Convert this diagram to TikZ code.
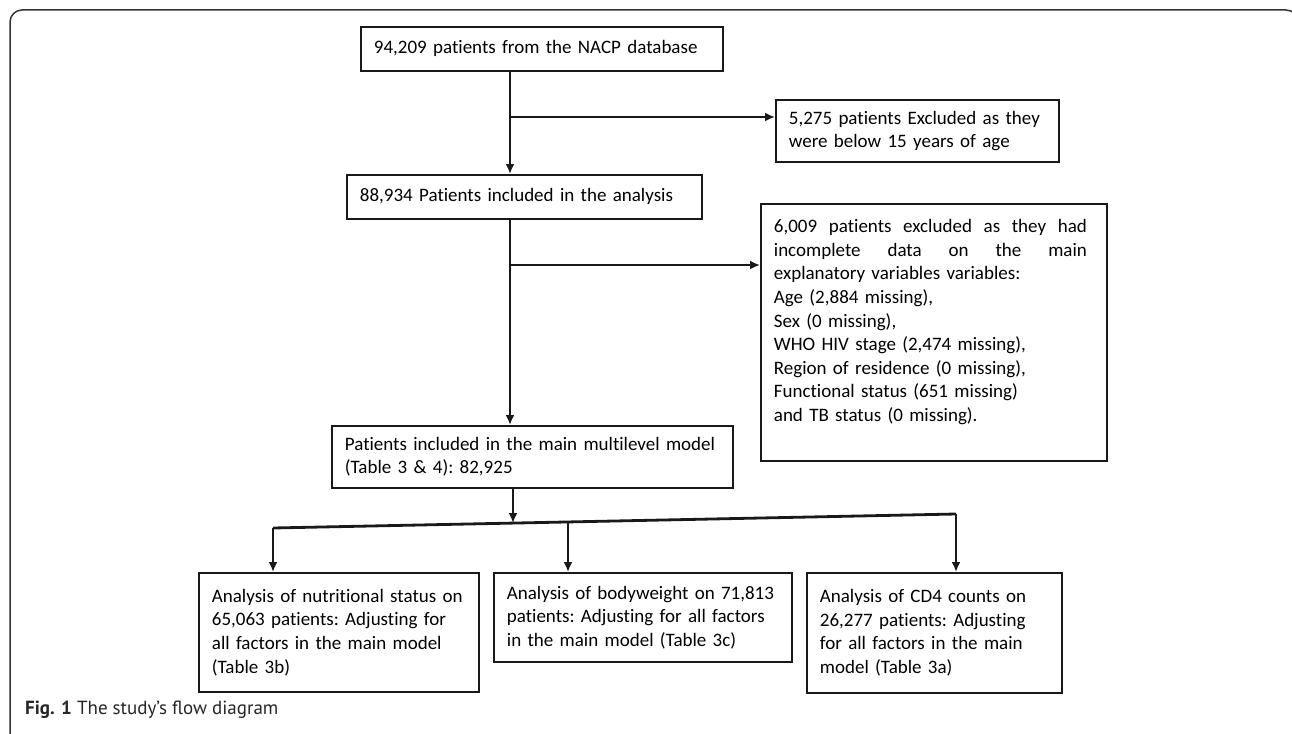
\documentclass[tikz,border=0pt]{standalone}
\usepackage{fontspec}
\setmainfont{Carlito}[Ligatures=NoCommon]
\newfontfamily\capfont{PT Sans}
\usetikzlibrary{arrows.meta}
\tikzstyle{block} = [draw=black!90, line width=1.8pt, rectangle, anchor=north west, align=left, inner xsep=13pt, inner ysep=4pt, font=\fontsize{19}{23.6}\selectfont\frenchspacing]
\tikzstyle{flow} = [draw=black!90, line width=2.8pt]
\newcommand{\jline}[1]{\makebox[313pt]{#1}}

\begin{document}
\begin{tikzpicture}[x=1pt,y=-1pt,>={Latex[length=10pt,width=9pt]}]
    \useasboundingbox (0,0) rectangle (1292,733);
    \clip (0,0) rectangle (1292,733);
    % frame
    \draw [line width=1.5pt, black!80, rounded corners=12pt] (10,750) -- (10,10) -- (1298,10) -- (1298,750);

    \node [block, text width=336pt, minimum height=44pt] (src) at (360,26) {\mbox{94,209 patients from the NACP database}};
    \node [block, text width=257pt, minimum height=62pt] (excl1) at (775,99) {\mbox{5,275 patients Excluded as they}\\\mbox{were below 15 years of age}};
    \node [block, text width=329pt, minimum height=44pt] (incl) at (346,174) {\mbox{88,934 Patients included in the analysis}};
    \node [block, text width=320pt, minimum height=257pt] (excl2) at (760,203) {\jline{6,009\hfill patients\hfill excluded\hfill as\hfill they\hfill had}\\\jline{incomplete\hfill data\hfill on\hfill the\hfill main}\\\mbox{explanatory variables variables:}\\\mbox{Age (2,884 missing),}\\\mbox{Sex (0 missing),}\\\mbox{WHO HIV stage (2,474 missing),}\\\mbox{Region of residence (0 missing),}\\\mbox{Functional status (651 missing)}\\\mbox{and TB status (0 missing).}\\\mbox{}};
    \node [block, text width=375pt, minimum height=62pt] (model) at (331,425) {\mbox{Patients included in the main multilevel model}\\\mbox{(Table 3 \& 4): 82,925}};
    \node [block, text width=254pt, minimum height=119pt] (an1) at (198,572) {\mbox{Analysis of nutritional status on}\\\mbox{65,063 patients: Adjusting for}\\\mbox{all factors in the main model}\\\mbox{(Table 3b)}};
    \node [block, text width=272pt, minimum height=89pt] (an2) at (493,572) {\mbox{Analysis of bodyweight on 71,813}\\\mbox{patients: Adjusting for all factors}\\\mbox{in the main model (Table 3c)}};
    \node [block, text width=229pt, minimum height=120pt] (an3) at (806,572) {\mbox{Analysis of CD4 counts on}\\\mbox{26,277 patients: Adjusting}\\\mbox{for all factors in the main}\\\mbox{model (Table 3a)}};

    \coordinate (j1) at (510,117);
    \coordinate (j2) at (510,265);
    \coordinate (j3) at (513,523);
    \coordinate (t1) at (273,528);
    \coordinate (t2) at (568,522);
    \coordinate (t3) at (956,514);

    \draw [flow, ->] (src.south -| j1) -- (incl.north -| j1);
    \draw [flow, ->] (j1) -- (excl1.west |- j1);
    \draw [flow, ->] (incl.south -| j2) -- (model.north -| j2);
    \draw [flow, ->] (j2) -- (excl2.west |- j2);
    \draw [flow, ->] (model.south -| j3) -- (j3);
    \draw [flow] (t1) -- (t3);
    \draw [flow, ->] (t1) -- (an1.north -| t1);
    \draw [flow, ->] (t2) -- (an2.north -| t2);
    \draw [flow, ->] (t3) -- (an3.north -| t3);

    \node [anchor=base west, inner sep=0pt, text=black!85, font=\capfont\fontsize{19}{23}\selectfont] (cap) at (25,714) {\textbf{Fig. 1} The study’s flow diagram};
\end{tikzpicture}
\end{document}
